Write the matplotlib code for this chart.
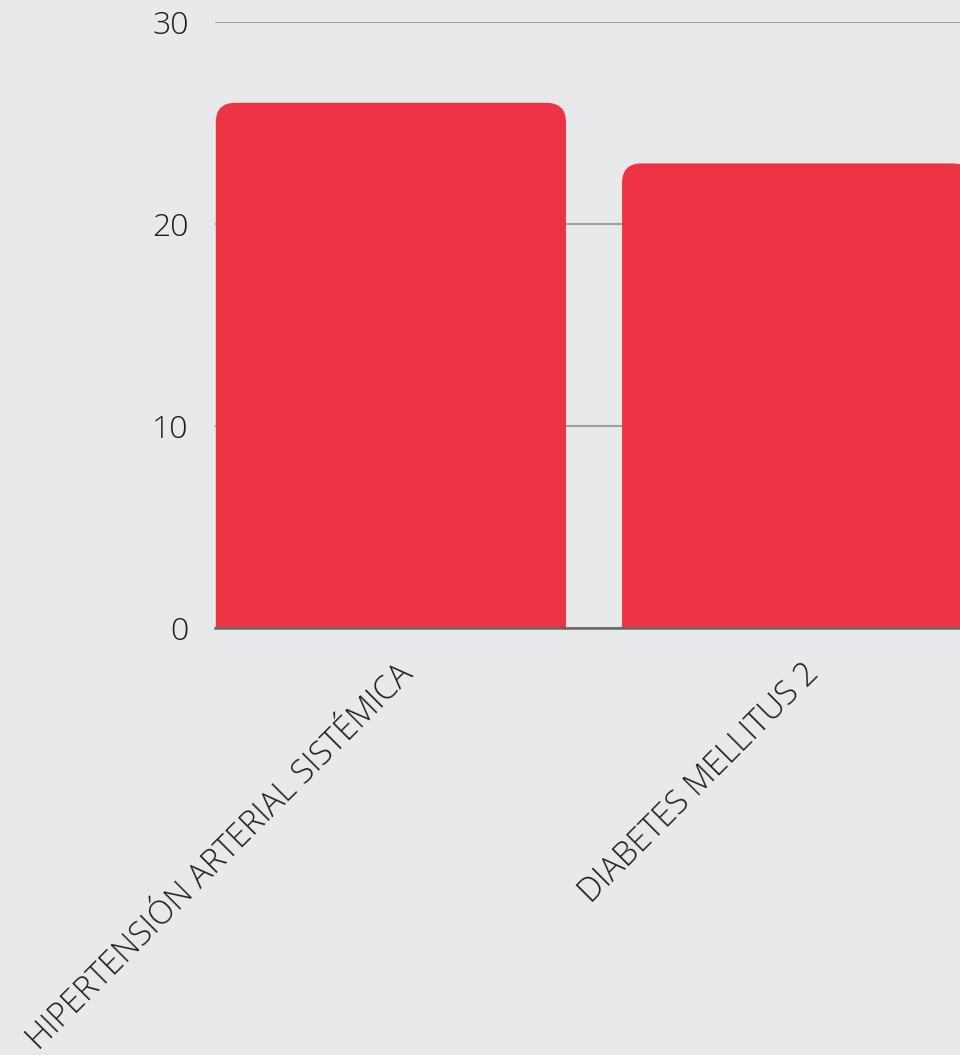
import matplotlib
matplotlib.use('Agg')
import matplotlib.pyplot as plt
import matplotlib.transforms as mtransforms
from matplotlib.patches import FancyBboxPatch

# Chart data
categories = ['HIPERTENSIÓN ARTERIAL SISTÉMICA', 'DIABETES MELLITUS 2']
values = [26, 23]
y_ticks = [0, 10, 20, 30]

BG = '#e8e9ea'
BAR = '#ee3344'

plt.rcParams['font.family'] = ['Open Sans', 'DejaVu Sans']

fig = plt.figure(figsize=(9.6, 10.55), dpi=100)
fig.patch.set_facecolor(BG)
ax = fig.add_axes([0.224, 0.4047, 0.776, 0.5744])
ax.set_facecolor(BG)

x = list(range(len(categories)))
bars = ax.bar(x, values, width=0.862, color=BAR)

ax.set_ylim(0, 30)
ax.set_xlim(-0.433, 1.401)

# swap the plain rectangles for ones with rounded tops
# (the box runs below zero so the bottom corners get clipped)
for b in bars:
    bx, by = b.get_x(), b.get_y()
    bw, bh = b.get_width(), b.get_height()
    b.remove()
    patch = FancyBboxPatch((bx, by - 2), bw, bh + 2,
                           boxstyle='round,pad=0,rounding_size=0.048',
                           mutation_aspect=20, facecolor=BAR,
                           edgecolor='none', zorder=2)
    ax.add_patch(patch)

ax.set_yticks(y_ticks)
ax.set_yticklabels([str(t) for t in y_ticks], fontsize=23,
                   fontweight='light', color='#1e1e1e')
ax.yaxis.grid(True, color='#a0a0a0', linewidth=1.5)
ax.set_axisbelow(True)
ax.tick_params(axis='y', length=0, pad=19)

ax.set_xticks(x)
ax.set_xticklabels(categories, rotation=45, ha='right',
                   rotation_mode='anchor', fontsize=23.5,
                   fontweight='light', color='#1e1e1e')
ax.tick_params(axis='x', length=0, pad=21)
offset = mtransforms.ScaledTranslation(0.05, 0, fig.dpi_scale_trans)
for lbl in ax.get_xticklabels():
    lbl.set_transform(lbl.get_transform() + offset)

for side in ['top', 'right', 'left']:
    ax.spines[side].set_visible(False)
ax.spines['bottom'].set_color('#666666')
ax.spines['bottom'].set_linewidth(1.8)
ax.spines['bottom'].set_zorder(3)

fig.savefig('out.png', dpi=100, facecolor=BG)
